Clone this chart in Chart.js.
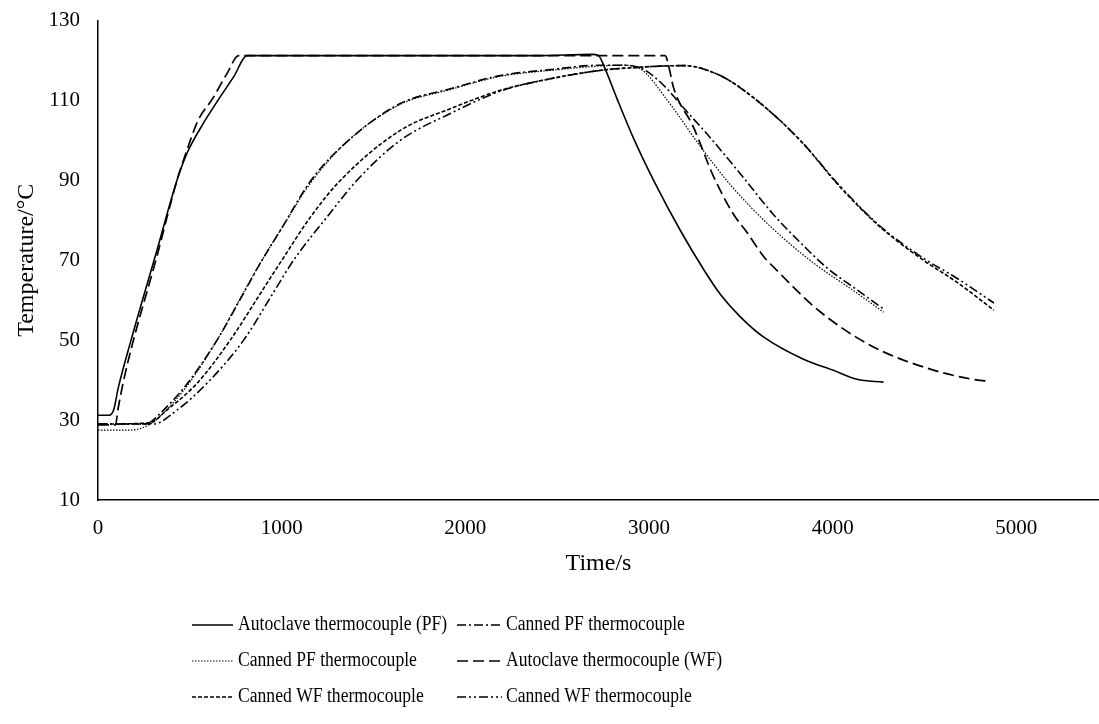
<!DOCTYPE html>
<html>
<head>
<meta charset="utf-8">
<script src="https://cdn.jsdelivr.net/npm/chart.js@4.4.1/dist/chart.umd.min.js"></script>
<style>
  html, body { margin: 0; padding: 0; background: #fff; }
  canvas { display: block; }
</style>
</head>
<body>
<canvas id="chart" width="1099" height="724"></canvas>
<script>
/* ── Data (time in s, temperature in °C) ─────────────────── */

const labels = [
  'Autoclave thermocouple (PF)',
  'Canned PF thermocouple',
  'Canned PF thermocouple',
  'Autoclave thermocouple (WF)',
  'Canned WF thermocouple',
  'Canned WF thermocouple',
];

const timeAutoPF = [0, 60, 85, 110, 180, 321, 430, 484, 570, 660, 740, 811, 1500, 2400, 2689, 2725, 2760, 2825, 2916, 3025, 3170, 3300, 3388, 3500, 3623, 3841, 4000, 4132, 4277];
const tempAutoPF = [31.2, 31.2, 32.5, 38, 50, 72.5, 90, 96.7, 104, 110.5, 116, 121.2, 121.2, 121.2, 121.5, 121.2, 118, 110.5, 100.5, 90, 77.5, 67.5, 61.5, 55.7, 50.8, 45.2, 42.5, 40.2, 39.5];

const timeCanPF1 = [0, 250, 285, 357, 484, 648, 793, 893, 1000, 1160, 1364, 1646, 1918, 2190, 2462, 2735, 2850, 2950, 3061, 3200, 3314, 3496, 3678, 3820, 3969, 4132, 4277];
const tempCanPF1 = [29, 29, 29.5, 32.5, 39, 50, 61.8, 70, 78, 90, 100, 109.2, 112.9, 116.2, 117.7, 118.8, 118.8, 118.2, 114.6, 107.5, 101.7, 91.7, 81.4, 74.6, 68.1, 62.6, 57.8];

const timeCanPF2 = [0, 176, 285, 357, 484, 648, 793, 893, 1000, 1160, 1364, 1646, 1918, 2190, 2462, 2735, 2850, 2952, 3100, 3279, 3450, 3660, 3896, 4113, 4277];
const tempCanPF2 = [27.5, 27.5, 29, 31.8, 38.5, 50, 62, 70, 78, 89.5, 100, 109, 112.7, 116, 117.5, 118.6, 118.8, 117.9, 110, 98.5, 88.5, 78.5, 69.3, 62.4, 57];

const timeAutoWF = [0, 95, 110, 140, 193, 315, 430, 478, 545, 622, 702, 766, 1500, 2500, 3088, 3110, 3133, 3242, 3351, 3460, 3533, 3623, 3678, 3932, 4222, 4549, 4750, 4848];
const tempAutoWF = [28.8, 28.8, 33, 40, 50, 70, 90, 96.7, 105, 110.3, 116.7, 121.2, 121.2, 121.2, 121.2, 118, 113.3, 103.3, 91, 81.5, 77, 71, 68.3, 57.1, 48.3, 42.5, 40.3, 39.7];

const timeCanWF1 = [0, 280, 375, 539, 720, 883, 1001, 1160, 1320, 1646, 1918, 2190, 2462, 2735, 2950, 3188, 3388, 3587, 3823, 4041, 4259, 4494, 4676, 4878];
const tempCanWF1 = [29, 29.3, 32.5, 39.2, 50, 61.6, 70, 81, 90, 102.5, 107.9, 112.5, 115.4, 117.5, 118.3, 118.7, 116.2, 110, 100, 88.3, 78.3, 70, 64.5, 57.5];

const timeCanWF2 = [0, 300, 430, 593, 793, 947, 1065, 1250, 1410, 1646, 1918, 2190, 2462, 2735, 2950, 3188, 3388, 3587, 3823, 4041, 4259, 4494, 4676, 4878];
const tempCanWF2 = [29, 29, 32.5, 39.2, 50, 61.3, 70, 81, 90, 100, 106.7, 112.3, 115.4, 117.5, 118.3, 118.7, 116.2, 110, 100, 88.5, 78.5, 70.5, 65.5, 59.3];

const xTicks = [0, 1000, 2000, 3000, 4000, 5000];
const yTicks = [10, 30, 50, 70, 90, 110, 130];

/* ── Helpers ──────────────────────────────────────────────── */

const FONT = '"Liberation Serif", "Times New Roman", serif';

function toPoints(times, temps) {
  return times.map((t, i) => ({ x: t, y: temps[i] }));
}

function series(label, times, temps, dash, width) {
  return {
    label,
    data: toPoints(times, temps),
    borderColor: '#000',
    backgroundColor: 'transparent',
    borderWidth: width,
    borderDash: dash,
    pointRadius: 0,
    fill: false,
    cubicInterpolationMode: 'monotone',
  };
}

// Legend in a 2-column grid under the plot (text a bit condensed like the source)
const gridLegend = {
  id: 'gridLegend',
  afterDraw(chart) {
    const ctx = chart.ctx;
    const cols = [{ x0: 192, x1: 233, tx: 238 }, { x0: 457, x1: 502, tx: 506 }];
    const rows = [625, 661, 697];
    ctx.save();
    ctx.font = '20px ' + FONT;
    ctx.fillStyle = '#000';
    ctx.textBaseline = 'middle';
    chart.data.datasets.forEach((ds, i) => {
      const c = cols[i % 2];
      const y = rows[Math.floor(i / 2)];
      ctx.strokeStyle = '#000';
      ctx.lineWidth = ds.borderWidth;
      ctx.setLineDash(ds.borderDash || []);
      ctx.beginPath();
      ctx.moveTo(c.x0, y);
      ctx.lineTo(c.x1, y);
      ctx.stroke();
      ctx.setLineDash([]);
      const w = ctx.measureText(ds.label).width;
      ctx.fillText(ds.label, c.tx, y, w * 0.88);
    });
    ctx.restore();
  },
};

/* ── Chart ────────────────────────────────────────────────── */

new Chart(document.getElementById('chart'), {
  type: 'line',
  data: {
    datasets: [
      series(labels[0], timeAutoPF, tempAutoPF, [], 1.6),
      series(labels[1], timeCanPF1, tempCanPF1, [9, 3, 2, 3], 1.6),
      series(labels[2], timeCanPF2, tempCanPF2, [1.5, 1.5], 1.2),
      series(labels[3], timeAutoWF, tempAutoWF, [11, 5], 1.7),
      series(labels[4], timeCanWF1, tempCanWF1, [4, 2], 1.6),
      series(labels[5], timeCanWF2, tempCanWF2, [9, 3, 2, 3, 2, 3], 1.6),
    ],
  },
  options: {
    responsive: false,
    animation: false,
    devicePixelRatio: 1,
    layout: { padding: { top: 20, right: 0, bottom: 144, left: 0 } },
    plugins: {
      legend: { display: false },
      tooltip: { enabled: false },
    },
    scales: {
      x: {
        type: 'linear',
        min: 0,
        max: 5450,
        afterBuildTicks: (scale) => { scale.ticks = xTicks.map((v) => ({ value: v })); },
        afterFit: (scale) => { scale.height = 80; },
        grid: { display: false, drawTicks: true, tickLength: 6, tickColor: '#000' },
        border: { color: '#000', width: 1.5 },
        ticks: {
          color: '#000',
          font: { family: FONT, size: 21 },
          padding: 10,
          maxRotation: 0,
          callback: (v) => String(v),
        },
        title: {
          display: true,
          text: 'Time/s',
          color: '#000',
          font: { family: FONT, size: 24 },
          padding: { top: 4, bottom: 2 },
        },
      },
      y: {
        min: 10,
        max: 130,
        afterBuildTicks: (scale) => { scale.ticks = yTicks.map((v) => ({ value: v })); },
        afterFit: (scale) => { scale.width = 98; },
        grid: { display: false, drawTicks: true, tickLength: 7, tickColor: '#000' },
        border: { color: '#000', width: 1.5 },
        ticks: { color: '#000', font: { family: FONT, size: 21, lineHeight: 0.9 }, padding: 11 },
        title: {
          display: true,
          text: 'Temperature/°C',
          color: '#000',
          font: { family: FONT, size: 24 },
          padding: { top: 12, bottom: 0 },
        },
      },
    },
  },
  plugins: [gridLegend],
});
</script>
</body>
</html>
